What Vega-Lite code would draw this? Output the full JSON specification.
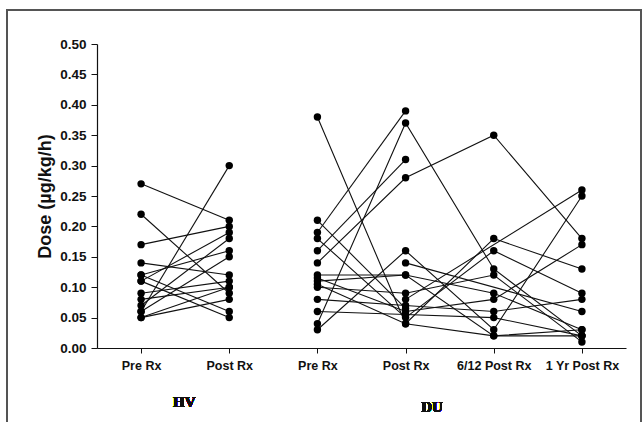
{
  "$schema": "https://vega.github.io/schema/vega-lite/v6.json",
  "width": 529,
  "height": 304,
  "autosize": {"type": "none"},
  "padding": {"left": 97, "top": 44, "right": 18, "bottom": 74},
  "background": "white",
  "config": {"view": {"stroke": null}, "font": "Liberation Sans"},
  "data": {"values": [
    {"s": "h1", "t": 0, "v": 0.27}, {"s": "h1", "t": 1, "v": 0.21},
    {"s": "h2", "t": 0, "v": 0.22}, {"s": "h2", "t": 1, "v": 0.09},
    {"s": "h3", "t": 0, "v": 0.17}, {"s": "h3", "t": 1, "v": 0.20},
    {"s": "h4", "t": 0, "v": 0.14}, {"s": "h4", "t": 1, "v": 0.12},
    {"s": "h5", "t": 0, "v": 0.12}, {"s": "h5", "t": 1, "v": 0.06},
    {"s": "h6", "t": 0, "v": 0.11}, {"s": "h6", "t": 1, "v": 0.05},
    {"s": "h7", "t": 0, "v": 0.11}, {"s": "h7", "t": 1, "v": 0.19},
    {"s": "h8", "t": 0, "v": 0.12}, {"s": "h8", "t": 1, "v": 0.16},
    {"s": "h9", "t": 0, "v": 0.09}, {"s": "h9", "t": 1, "v": 0.11},
    {"s": "h10", "t": 0, "v": 0.08}, {"s": "h10", "t": 1, "v": 0.10},
    {"s": "h11", "t": 0, "v": 0.07}, {"s": "h11", "t": 1, "v": 0.18},
    {"s": "h12", "t": 0, "v": 0.06}, {"s": "h12", "t": 1, "v": 0.30},
    {"s": "h13", "t": 0, "v": 0.06}, {"s": "h13", "t": 1, "v": 0.15},
    {"s": "h14", "t": 0, "v": 0.05}, {"s": "h14", "t": 1, "v": 0.08},
    {"s": "h15", "t": 0, "v": 0.05}, {"s": "h15", "t": 1, "v": 0.10},
    {"s": "d1", "t": 2, "v": 0.38}, {"s": "d1", "t": 3, "v": 0.04}, {"s": "d1", "t": 4, "v": 0.18}, {"s": "d1", "t": 5, "v": 0.13},
    {"s": "d2", "t": 2, "v": 0.19}, {"s": "d2", "t": 3, "v": 0.39},
    {"s": "d3", "t": 2, "v": 0.16}, {"s": "d3", "t": 3, "v": 0.31},
    {"s": "d4", "t": 2, "v": 0.14}, {"s": "d4", "t": 3, "v": 0.28}, {"s": "d4", "t": 4, "v": 0.35}, {"s": "d4", "t": 5, "v": 0.18},
    {"s": "d5", "t": 2, "v": 0.04}, {"s": "d5", "t": 3, "v": 0.37}, {"s": "d5", "t": 4, "v": 0.13}, {"s": "d5", "t": 5, "v": 0.02},
    {"s": "d6", "t": 2, "v": 0.03}, {"s": "d6", "t": 3, "v": 0.16}, {"s": "d6", "t": 4, "v": 0.03}, {"s": "d6", "t": 5, "v": 0.25},
    {"s": "d7", "t": 2, "v": 0.12}, {"s": "d7", "t": 3, "v": 0.12}, {"s": "d7", "t": 4, "v": 0.09}, {"s": "d7", "t": 5, "v": 0.03},
    {"s": "d8", "t": 2, "v": 0.18}, {"s": "d8", "t": 3, "v": 0.05}, {"s": "d8", "t": 4, "v": 0.16}, {"s": "d8", "t": 5, "v": 0.09},
    {"s": "d9", "t": 2, "v": 0.11}, {"s": "d9", "t": 3, "v": 0.12}, {"s": "d9", "t": 4, "v": 0.02}, {"s": "d9", "t": 5, "v": 0.02},
    {"s": "d10", "t": 2, "v": 0.10}, {"s": "d10", "t": 3, "v": 0.09}, {"s": "d10", "t": 4, "v": 0.12}, {"s": "d10", "t": 5, "v": 0.01},
    {"s": "d11", "t": 2, "v": 0.115}, {"s": "d11", "t": 3, "v": 0.06}, {"s": "d11", "t": 4, "v": 0.08}, {"s": "d11", "t": 5, "v": 0.17},
    {"s": "d12", "t": 2, "v": 0.08}, {"s": "d12", "t": 3, "v": 0.07}, {"s": "d12", "t": 4, "v": 0.06}, {"s": "d12", "t": 5, "v": 0.08},
    {"s": "d13", "t": 2, "v": 0.06}, {"s": "d13", "t": 3, "v": 0.055}, {"s": "d13", "t": 4, "v": 0.05}, {"s": "d13", "t": 5, "v": 0.02},
    {"s": "d14", "t": 2, "v": 0.21}, {"s": "d14", "t": 3, "v": 0.065},
    {"s": "d15", "t": 2, "v": 0.105}, {"s": "d15", "t": 3, "v": 0.04}, {"s": "d15", "t": 4, "v": 0.02}, {"s": "d15", "t": 5, "v": 0.03},
    {"s": "d16", "t": 3, "v": 0.14}, {"s": "d16", "t": 5, "v": 0.06},
    {"s": "d17", "t": 3, "v": 0.08}, {"s": "d17", "t": 5, "v": 0.26}
  ]},
  "encoding": {
    "x": {
      "field": "t", "type": "quantitative",
      "scale": {"domain": [-0.5, 5.5], "nice": false, "zero": false},
      "axis": {
        "title": null, "values": [0, 1, 2, 3, 4, 5], "grid": false,
        "labelExpr": "['Pre Rx','Post Rx','Pre Rx','Post Rx','6/12 Post Rx','1 Yr Post Rx'][datum.value]",
        "labelFont": "Liberation Sans", "labelFontWeight": "bold", "labelFontSize": 12.5,
        "labelColor": "#111", "labelPadding": 6, "tickSize": 5, "tickColor": "#111",
        "domainColor": "#111", "domainWidth": 1.2
      }
    },
    "y": {
      "field": "v", "type": "quantitative",
      "scale": {"domain": [0, 0.5], "nice": false},
      "axis": {
        "title": "Dose (µg/kg/h)", "values": [0, 0.05, 0.1, 0.15, 0.2, 0.25, 0.3, 0.35, 0.4, 0.45, 0.5],
        "format": ".2f", "grid": false,
        "labelFont": "Liberation Sans", "labelFontWeight": "bold", "labelFontSize": 13.5,
        "labelColor": "#111", "labelPadding": 5, "tickSize": 6, "tickColor": "#111",
        "domainColor": "#111", "domainWidth": 1.2,
        "titleFont": "Liberation Sans", "titleFontWeight": "bold", "titleFontSize": 18,
        "titleColor": "#111", "titlePadding": 5
      }
    }
  },
  "layer": [
    {
      "mark": {"type": "rect", "fill": null, "stroke": "#555", "strokeWidth": 1.5},
      "encoding": {
        "x": {"datum": -1.52}, "x2": {"datum": 5.67},
        "y": {"datum": 0.556}, "y2": {"datum": -0.25}
      }
    },
    {
      "mark": {"type": "line", "color": "#111", "strokeWidth": 1.1},
      "encoding": {"detail": {"field": "s"}}
    },
    {
      "mark": {"type": "point", "filled": true, "color": "#000", "size": 55, "opacity": 1}
    },
    {
      "mark": {"type": "text", "font": "Liberation Serif", "fontWeight": "bold", "fontSize": 15, "color": "#111"},
      "encoding": {"x": {"datum": 0.49}, "y": {"datum": -0.089}, "text": {"value": "HV"}}
    },
    {
      "mark": {"type": "text", "font": "Liberation Serif", "fontWeight": "bold", "fontSize": 15, "color": "#111"},
      "encoding": {"x": {"datum": 3.3}, "y": {"datum": -0.097}, "text": {"value": "DU"}}
    }
  ]
}
